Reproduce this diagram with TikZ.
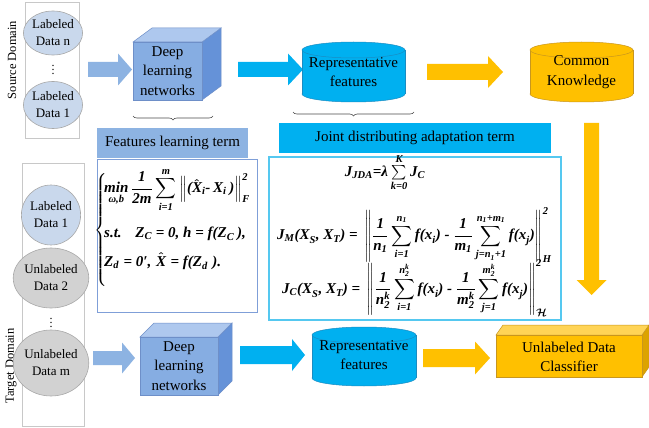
\documentclass[tikz,border=0pt]{standalone}
\usepackage{amsmath}
\usepackage{fontspec}
\setmainfont{Liberation Serif}
\usetikzlibrary{shapes.geometric,decorations.pathreplacing}
\AtBeginDocument{\boldmath}
\definecolor{lbluefront}{HTML}{86ADE2}
\definecolor{lbluetop}{HTML}{AEC8EE}
\definecolor{lblueside}{HTML}{6592D8}
\definecolor{lblueedge}{HTML}{6E8FC8}
\definecolor{lblue}{HTML}{8DB3E2}
\definecolor{cyanb}{HTML}{00B0F0}
\definecolor{cyanedge}{HTML}{1A8CC2}
\definecolor{goldfront}{HTML}{FFC000}
\definecolor{goldtop}{HTML}{FFD456}
\definecolor{goldside}{HTML}{DCA300}
\definecolor{goldedge}{HTML}{C8961E}
\definecolor{ellblue}{HTML}{C9D8EC}
\definecolor{ellgray}{HTML}{D2D2D2}
\definecolor{elledge}{HTML}{A8A8A8}
\definecolor{panelc}{HTML}{C8C8C8}
\definecolor{lboxedge}{HTML}{7F9FD8}
\definecolor{rboxedge}{HTML}{55C8F0}
\newcommand\mbi[1]{\text{\bfseries\itshape #1}}
\newcommand\fmA{$\displaystyle \mathop{\mbi{min}}\limits_{\mbi{ω,b}}\frac{\mbi{1}}{\mbi{2m}}\sum_{\mbi{i=1}}^{\mbi{m}}\left\Vert\mbi{(}\hat{\mbi{X}}_{\mbi{i}}\mbi{-}\,\mbi{X}_{\mbi{i}}\,\mbi{)}\right\Vert_{\mbi{F}}^{\mbi{2}}$}
\newcommand\fmB{$\mbi{s.t.}\;\;\;\mbi{Z}_{\mbi{C}}\mbi{ = 0, h = f(Z}_{\mbi{C}}\,\mbi{),}$}
\newcommand\fmC{$\mbi{Z}_{\mbi{d}}\;\mbi{= 0′,}\;\hat{\mbi{X}}\;\mbi{= f(Z}_{\mbi{d}}\;\mbi{).}$}
\newcommand\fmD{$\mbi{J}_{\mbi{JDA}}\mbi{=λ}\sum\limits_{\mbi{k=0}}^{\mbi{K}}\mbi{J}_{\mbi{C}}$}
\newcommand\fmE{$\displaystyle \mbi{J}_{\mbi{M}}\mbi{(X}_{\mbi{S}}\mbi{, X}_{\mbi{T}}\mbi{) = }\left\Vert\frac{\mbi{1}}{\mbi{n}_{\mbi{1}}}\sum_{\mbi{i=1}}^{\mbi{n}_{\mbi{1}}}\mbi{f(x}_{\mbi{i}}\mbi{) - }\frac{\mbi{1}}{\mbi{m}_{\mbi{1}}}\sum_{\mbi{j=n}_{\mbi{1}}\mbi{+1}}^{\mbi{n}_{\mbi{1}}\mbi{+m}_{\mbi{1}}}\mbi{f(x}_{\mbi{j}}\mbi{)}\right\Vert_{\mbi{H}}^{\mbi{2}}$}
\newcommand\fmF{$\displaystyle \mbi{J}_{\mbi{C}}\mbi{(X}_{\mbi{S}}\mbi{, X}_{\mbi{T}}\mbi{) = }\left\Vert\frac{\mbi{1}}{\mbi{n}_{\mbi{2}}^{\mbi{k}}}\sum_{\mbi{i=1}}^{\mbi{n}_{\mbi{2}}^{\mbi{k}}}\mbi{f(x}_{\mbi{i}}\mbi{) - }\frac{\mbi{1}}{\mbi{m}_{\mbi{2}}^{\mbi{k}}}\sum_{\mbi{j=1}}^{\mbi{m}_{\mbi{2}}^{\mbi{k}}}\mbi{f(x}_{\mbi{j}}\mbi{)}\right\Vert_{\mathcal{H}}^{\mbi{2}}$}
\newcommand\fmBrace{$\left\{\rule{0pt}{62pt}\right.$}
\newcommand\boxthreed[7]{%
 \filldraw[draw=#7edge,fill=#7side,line width=0.5pt] (#3,#2) -- ++(#5,-#6) -- ({#3+#5},{#4-#6}) -- (#3,#4) -- cycle;
 \filldraw[draw=#7edge,fill=#7top,line width=0.5pt] (#1,#2) -- ++(#5,-#6) -- ({#3+#5},{#2-#6}) -- (#3,#2) -- cycle;
 \filldraw[draw=#7edge,fill=#7front,line width=0.5pt] (#1,#2) rectangle (#3,#4);
}
\newcommand\cyl[7]{%
 \filldraw[fill=#6,draw=#7,line width=0.5pt] (#1,{#4-#5}) ellipse[x radius=#2,y radius=#5];
 \fill[#6] ({#1-#2},{#3+#5}) rectangle ({#1+#2},{#4-#5});
 \draw[#7,line width=0.5pt] ({#1-#2},{#3+#5}) -- ({#1-#2},{#4-#5}) ({#1+#2},{#3+#5}) -- ({#1+#2},{#4-#5});
 \filldraw[fill=#6,draw=#7,line width=0.5pt] (#1,{#3+#5}) ellipse[x radius=#2,y radius=#5];
}
\newcommand\barrow[7]{%
 \fill[#7] (#1,{#3-#4}) -- ({#2-#6},{#3-#4}) -- ({#2-#6},{#3-#5}) -- (#2,#3) -- ({#2-#6},{#3+#5}) -- ({#2-#6},{#3+#4}) -- (#1,{#3+#4}) -- cycle;
}
\newcommand\darrow[7]{%
 \fill[#7] ({#1-#4},#2) -- ({#1-#4},{#3-#6}) -- ({#1-#5},{#3-#6}) -- (#1,#3) -- ({#1+#5},{#3-#6}) -- ({#1+#4},{#3-#6}) -- ({#1+#4},#2) -- cycle;
}
\tikzset{
 lbl/.style={font=\fontsize{15}{19.5}\selectfont, align=center, inner sep=0pt, text=black},
 dataell/.style={ellipse, draw=elledge, line width=0.6pt, inner sep=0pt, align=center, font=\fontsize{13}{17}\selectfont},
 panelbox/.style={draw=panelc, line width=0.7pt},
 bracec/.style={decorate, decoration={brace, amplitude=4pt, mirror}, draw=black!70, line width=0.6pt},
 fm/.style={inner sep=0pt, font=\fontsize{15}{18}\selectfont}
}
\begin{document}
\begin{tikzpicture}[x=1pt,y=-1pt]
\useasboundingbox[fill=white] (0,0) rectangle (649,428);
% panels
\draw[panelbox] (25,2) rectangle (79,138);
\draw[panelbox] (22,163) rectangle (84,426);
\node[rotate=90, font=\fontsize{12.5}{15}\selectfont] (sd) at (12,60) {Source Domain};
\node[rotate=90, font=\fontsize{12.5}{15}\selectfont] (td) at (11,366) {Target Domain};
% source data
\node[dataell, fill=ellblue, minimum width=49pt, minimum height=44pt] (s1) at (53,33) {Labeled\\Data n};
\node[font=\fontsize{12}{12}\selectfont] (sdots) at (53,67) {$\vdots$};
\node[dataell, fill=ellblue, minimum width=48pt, minimum height=47pt] (s2) at (53,105) {Labeled\\Data 1};
% target data
\node[dataell, fill=ellblue, minimum width=58pt, minimum height=60pt] (t1) at (51,215) {Labeled\\Data 1};
\node[dataell, fill=ellgray, minimum width=58pt, minimum height=60pt] (t2) at (51,278) {Unlabeled\\Data 2};
\node[font=\fontsize{12}{12}\selectfont] (tdots) at (51,320) {$\vdots$};
\node[dataell, fill=ellgray, minimum width=58pt, minimum height=66pt] (t3) at (51,363) {Unlabeled\\Data m};
% upper row
\barrow{88}{132}{69.5}{7.5}{16}{14}{lblue}
\boxthreed{133}{42}{202}{100}{19}{14}{lblue}
\node[lbl] (dln1) at (167.5,71) {Deep\\learning\\networks};
\barrow{238}{303}{69.5}{7.5}{16}{15}{cyanb}
\cyl{353.5}{51.5}{42}{102}{8}{cyanb}{cyanedge}
\node[lbl] (rf1) at (353.5,72) {Representative\\features};
\barrow{427}{503}{72}{8}{16}{15}{goldfront}
\cyl{581.5}{51.5}{42}{102}{8}{goldfront}{goldedge}
\node[lbl] (ck) at (581.5,72) {Common\\Knowledge};
% braces
\draw[bracec] (133,116) -- (213,116);
\draw[bracec] (293,112) -- (414,112);
% term boxes
\node[lbl, fill=lblue, minimum width=151pt, minimum height=30pt] (flt) at (172.5,143) {Features learning term};
\node[lbl, fill=cyanb, minimum width=272pt, minimum height=30pt] (jdt) at (415,138) {Joint distributing adaptation term};
% formula boxes
\draw[draw=lboxedge, line width=1pt] (97,160) rectangle (257,312);
\draw[draw=rboxedge, line width=1.2pt] (269,157) rectangle (561,320);
\node[fm] (lbrace) at (101,229) {\fmBrace};
\node[fm, anchor=west] (lf1) at (104,190) {\fmA};
\node[fm, anchor=base west] (lf2) at (104,237) {\fmB};
\node[fm, anchor=base west] (lf3) at (104,266) {\fmC};
\node[fm] (jda) at (385,173) {\fmD};
\node[fm, anchor=west] (jm) at (277,235) {\fmE};
\node[fm, anchor=west] (jc) at (282,288) {\fmF};
% down arrow
\darrow{591.5}{123}{295}{7.5}{15}{15}{goldfront}
% lower row
\barrow{93}{135}{358}{7}{15.5}{13}{lblue}
\boxthreed{140}{337}{218}{395}{14}{14}{lblue}
\node[lbl] (dln2) at (179,366) {Deep\\learning\\networks};
\barrow{240}{305}{355}{9}{16}{13}{cyanb}
\cyl{364}{52}{327}{386}{8}{cyanb}{cyanedge}
\node[lbl] (rf2) at (364,355) {Representative\\features};
\barrow{423}{490}{358}{9}{16.5}{15}{goldfront}
\boxthreed{496}{335}{642}{377}{7}{10}{gold}
\node[lbl] (udc) at (569,357) {Unlabeled Data\\Classifier};
\end{tikzpicture}
\end{document}
